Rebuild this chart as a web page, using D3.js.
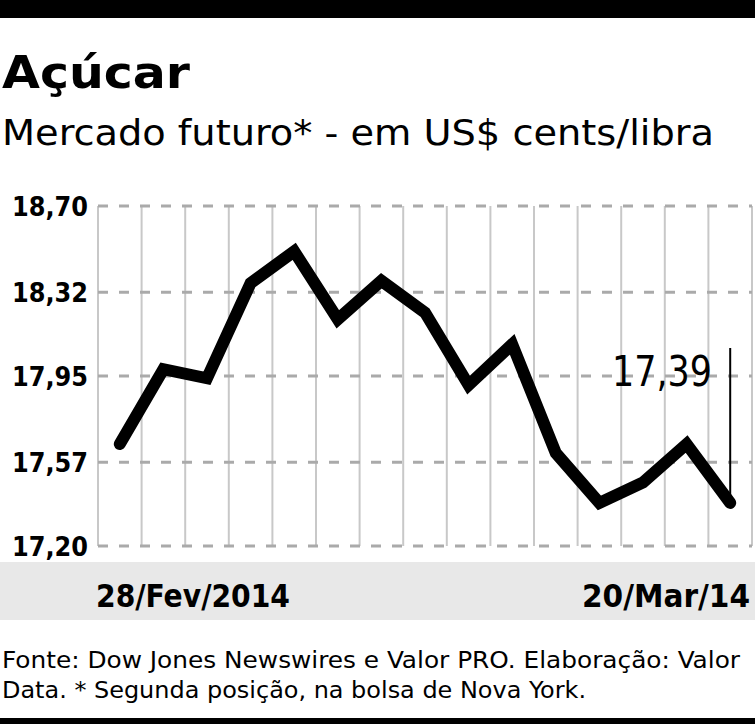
<!DOCTYPE html>
<html><head><meta charset="utf-8">
<script src="https://cdn.jsdelivr.net/npm/d3@7"></script>
<style>body{margin:0;background:#fff}svg{display:block}text{font-family:"DejaVu Sans Condensed","DejaVu Sans";font-stretch:condensed}</style>
</head><body><svg width="755" height="724"></svg>
<script>
const values=[17.65,17.98,17.94,18.36,18.50,18.20,18.37,18.23,17.91,18.09,17.61,17.39,17.48,17.65,17.39];
const yTicks=[17.20,17.57,17.95,18.32,18.70];
const yTickLabels=["17,20","17,57","17,95","18,32","18,70"];
const dateLabels=["28/Fev/2014","20/Mar/14"];
const lastLabel="17,39";
const svg=d3.select("svg");
svg.append("rect").attr("x",0).attr("y",0).attr("width",755).attr("height",18).attr("fill","#000");
svg.append("rect").attr("x",0).attr("y",718).attr("width",755).attr("height",6).attr("fill","#000");
svg.append("text").attr("x",2).attr("y",88).attr("font-size",44).attr("font-weight","bold").attr("textLength",188).attr("lengthAdjust","spacingAndGlyphs").text("Açúcar");
svg.append("text").attr("x",2).attr("y",145).attr("font-size",35).attr("textLength",712).attr("lengthAdjust","spacingAndGlyphs").text("Mercado futuro* - em US$ cents/libra");
const x=d3.scaleLinear().domain([-0.5,values.length-0.5]).range([98,752]);
const y=d3.scaleLinear().domain([17.20,18.70]).range([546,206]);
const g=svg.append("g");
d3.range(values.length+1).forEach(i=>{
 g.append("line").attr("x1",x(i-0.5)).attr("x2",x(i-0.5)).attr("y1",206).attr("y2",546).attr("stroke","#c8c8c8").attr("stroke-width",2);
});
yTicks.forEach((t,i)=>{
 g.append("line").attr("x1",98).attr("x2",752).attr("y1",y(t)).attr("y2",y(t)).attr("stroke","#aaa").attr("stroke-width",3).attr("stroke-dasharray","10,11");
 g.append("text").attr("x",88).attr("y",y(t)+10).attr("text-anchor","end").attr("font-size",26).attr("font-weight","bold").attr("textLength",76).attr("lengthAdjust","spacingAndGlyphs").text(yTickLabels[i]);
});
svg.append("rect").attr("x",0).attr("y",562).attr("width",755).attr("height",58).attr("fill","#e8e8e8");
svg.append("text").attr("x",96).attr("y",607).attr("font-size",32).attr("font-weight","bold").attr("textLength",194).attr("lengthAdjust","spacingAndGlyphs").text(dateLabels[0]);
svg.append("text").attr("x",750).attr("y",607).attr("text-anchor","end").attr("font-size",32).attr("font-weight","bold").attr("textLength",168).attr("lengthAdjust","spacingAndGlyphs").text(dateLabels[1]);
const line=d3.line().x((d,i)=>x(i)).y(d=>y(d));
const li=values.length-1;
svg.append("line").attr("x1",x(li)).attr("x2",x(li)).attr("y1",348).attr("y2",y(values[li])).attr("stroke","#000").attr("stroke-width",2);
svg.append("path").datum(values).attr("d",line).attr("fill","none").attr("stroke","#000").attr("stroke-width",12).attr("stroke-linejoin","miter").attr("stroke-linecap","round");
svg.append("text").attr("x",712).attr("y",386).attr("text-anchor","end").attr("font-size",42).attr("textLength",100).attr("lengthAdjust","spacingAndGlyphs").text(lastLabel);
svg.append("text").attr("x",2).attr("y",668).attr("font-size",23).attr("textLength",738).attr("lengthAdjust","spacingAndGlyphs").text("Fonte: Dow Jones Newswires e Valor PRO. Elaboração: Valor");
svg.append("text").attr("x",2).attr("y",698).attr("font-size",23).attr("textLength",584).attr("lengthAdjust","spacingAndGlyphs").text("Data. * Segunda posição, na bolsa de Nova York.");
</script></body></html>
